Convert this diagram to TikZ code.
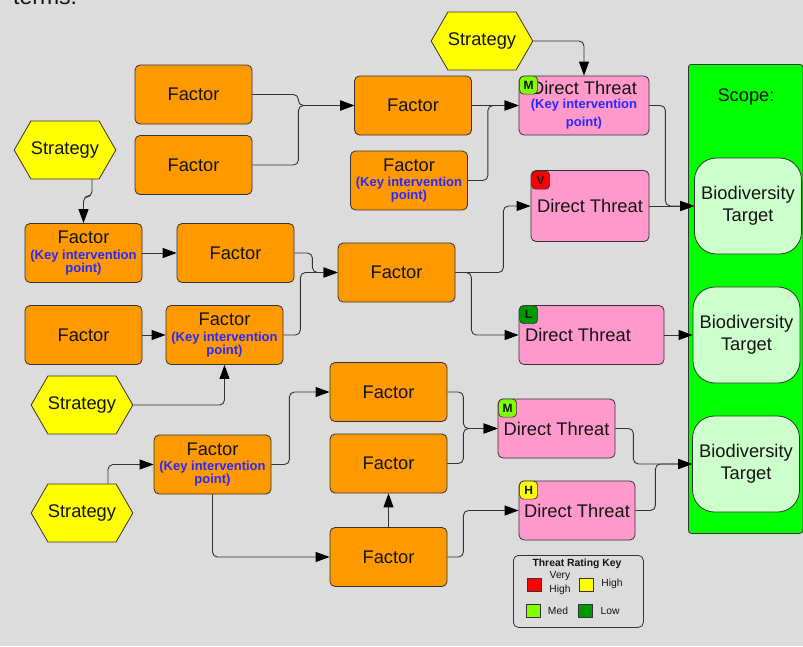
\documentclass[tikz,border=0pt]{standalone}
\usepackage{fontspec}
\setmainfont{Liberation Sans}
\usetikzlibrary{arrows.meta,shapes.symbols,calc}

\definecolor{bg}{RGB}{220,220,220}
\definecolor{factor}{RGB}{255,153,0}
\definecolor{threat}{RGB}{255,153,204}
\definecolor{strat}{RGB}{255,255,0}
\definecolor{scopegreen}{RGB}{0,255,0}
\definecolor{target}{RGB}{204,255,204}
\definecolor{kipblue}{RGB}{40,40,255}
\definecolor{edge}{RGB}{51,51,51}
\definecolor{ink}{RGB}{20,20,20}
\definecolor{rvhigh}{RGB}{255,0,0}
\definecolor{rhigh}{RGB}{255,255,0}
\definecolor{rmed}{RGB}{128,255,0}
\definecolor{rlow}{RGB}{0,153,0}

\newcommand\mainsize{\fontsize{18.3}{20}\selectfont}
\newcommand\kip[1]{{\bfseries\color{kipblue}#1}}

\tikzset{
  box/.style={draw=edge, line width=0.8pt, rounded corners=5pt, inner sep=0pt,
    align=center, font=\mainsize, text=ink},
  factorbox/.style={box, fill=factor, minimum width=117pt, minimum height=59pt},
  kipbox/.style={font=\fontsize{13}{12}\selectfont},
  threatbox/.style={box, fill=threat, minimum height=59pt},
  strategy/.style={draw=edge, line width=0.8pt, fill=strat, signal, signal to=east and west,
    signal pointer angle=120, minimum width=100pt, minimum height=58pt,
    inner sep=0pt, font=\mainsize, text=ink},
  targetbox/.style={box, fill=target, rounded corners=22pt, minimum width=107pt,
    minimum height=96pt, font=\fontsize{18.3}{22}\selectfont},
  badge/.style={draw=edge, line width=0.7pt, rounded corners=4pt, minimum width=18pt,
    minimum height=18pt, inner sep=0pt, font=\fontsize{12}{12}\selectfont\bfseries, text=ink},
  keysq/.style={draw=edge, line width=0.7pt, minimum width=14pt, minimum height=13pt, inner sep=0pt},
  keytxt/.style={font=\fontsize{10.3}{14}\selectfont, align=center, text=ink, inner sep=0pt},
  conn/.style={draw=edge, line width=0.9pt, rounded corners=5pt,
    -{Triangle[length=14pt,width=10pt,color=black]}},
}

\begin{document}
\begin{tikzpicture}[x=1pt, y=-1pt]
\useasboundingbox (0,0) rectangle (803,646);
\clip (0,0) rectangle (803,646);
\fill[bg] (0,0) rectangle (803,646);

% trailing words of the preceding paragraph
\node[anchor=base west, inner sep=0pt, font=\fontsize{23}{23}\selectfont, text=ink] (terms) at (13,4.5) {terms.};

% scope panel with the biodiversity targets
\node[draw=edge, line width=0.8pt, fill=scopegreen, rounded corners=3pt, anchor=north west,
  minimum width=114.5pt, minimum height=469pt, inner sep=0pt] (scope) at (688,64) {};
\node[font=\mainsize, text=ink] (scopelbl) at (746,97) {Scope:};
\node[targetbox] (BT1) at (748,206) {Biodiversity\\Target};
\node[targetbox] (BT2) at (746.5,335) {Biodiversity\\Target};
\node[targetbox] (BT3) at (746,464) {Biodiversity\\Target};

% strategies
\node[strategy] (ST) at (482,41) {Strategy};
\node[strategy] (SL) at (65,150) {Strategy};
\node[strategy] (SM) at (82,405) {Strategy};
\node[strategy] (SB) at (82,513) {Strategy};

% factors
\node[factorbox] (FA) at (193.5,94.5) {Factor};
\node[factorbox] (FB) at (193.5,165) {Factor};
\node[factorbox] (FC) at (413,105.5) {Factor};
\node[factorbox, kipbox] (FD) at (409,180.5) {{\mainsize Factor}\\[3.5pt]\kip{(Key intervention}\\\kip{point)}};
\node[factorbox, kipbox] (FE) at (83.5,253) {{\mainsize Factor}\\[3.5pt]\kip{(Key intervention}\\\kip{point)}};
\node[factorbox] (FF) at (235.5,253) {Factor};
\node[factorbox] (FG) at (396.5,272.5) {Factor};
\node[factorbox] (FH) at (83.5,335) {Factor};
\node[factorbox, kipbox] (FI) at (224.5,335) {{\mainsize Factor}\\[3.5pt]\kip{(Key intervention}\\\kip{point)}};
\node[factorbox] (FJ) at (388.5,392) {Factor};
\node[factorbox] (FK) at (388.5,463.5) {Factor};
\node[factorbox, kipbox] (FL) at (212.5,464.5) {{\mainsize Factor}\\[3.5pt]\kip{(Key intervention}\\\kip{point)}};
\node[factorbox] (FM) at (388.5,557) {Factor};

% direct threats
\node[threatbox, kipbox, minimum width=130pt] (DTM) at (584,105.5)
  {{\mainsize Direct Threat}\\[2pt]\kip{(Key intervention}\\[5pt]\kip{point)}};
\node[threatbox, minimum width=118pt, minimum height=71pt] (DTV) at (590,206) {Direct Threat};
\node[threatbox, minimum width=145pt] (DTL) at (591.5,335) {Direct Threat\hbox to 27pt{}};
\node[threatbox, minimum width=117pt] (DTN) at (556.5,428.5) {Direct Threat};
\node[threatbox, minimum width=116pt] (DTH) at (577,510.5) {Direct Threat};

% threat rating badges
\node[badge, fill=rmed]   (bDTM) at ($(DTM.north west)+(10,9.5)$) {M};
\node[badge, fill=rvhigh] (bDTV) at ($(DTV.north west)+(10,10)$) {V};
\node[badge, fill=rlow]   (bDTL) at ($(DTL.north west)+(10,9.5)$) {L};
\node[badge, fill=rmed]   (bDTN) at ($(DTN.north west)+(10,9.5)$) {M};
\node[badge, fill=rhigh]  (bDTH) at ($(DTH.north west)+(10,9.5)$) {H};

% connectors
\draw[conn] (FA.east) -- ++(46,0) |- (FC.west);
\draw[conn] (FB.east) -- ++(46,0) |- (FC.west);
\draw[conn] (FC.east) -- (DTM.west);
\draw[conn] (FD.east) -- ++(20,0) |- (DTM.west);
\draw[conn] (ST.east) -| (DTM.north);
\draw[conn] (DTM.east) -- ++(16,0) |- (BT1.west);
\draw[conn] (DTV.east) -- (BT1.west);
\draw[conn] (FG.east) -- ++(48,0) |- (DTV.west);
\draw[conn] (FG.east) -- ++(16,0) |- (DTL.west);
\draw[conn] (DTL.east) -- (BT2.west);
\draw[conn] ($(SL.south)+(27,0)$) -- ++(0,17) -| (FE.north);
\draw[conn] (FE.east) -- (FF.west);
\draw[conn] (FF.east) -- ++(18,0) |- (FG.west);
\draw[conn] (FI.east) -- ++(17,0) |- (FG.west);
\draw[conn] (FH.east) -- (FI.west);
\draw[conn] (SM.east) -| (FI.south);
\draw[conn] (FL.east) -- ++(18,0) |- (FJ.west);
\draw[conn] ($(SB.north)+(26,0)$) |- (FL.west);
\draw[conn] (FL.south) |- (FM.west);
\draw[conn] (FM.north) -- (FK.south);
\draw[conn] (FJ.east) -- ++(16,0) |- (DTN.west);
\draw[conn] (FK.east) -- ++(16,0) |- (DTN.west);
\draw[conn] (FM.east) -- ++(16,0) |- (DTH.west);
\draw[conn] (DTN.east) -- ++(18,0) |- (BT3.west);
\draw[conn] (DTH.east) -- ++(20,0) |- (BT3.west);

% threat rating key
\node[draw=edge, line width=0.8pt, fill=bg, rounded corners=5pt, anchor=north west,
  minimum width=130pt, minimum height=72pt, inner sep=0pt] (key) at (513,555) {};
\node[keytxt, font=\fontsize{10.4}{12}\selectfont\bfseries] (keytitle) at (577,564) {Threat Rating Key};
\node[keysq, fill=rvhigh] (kV) at (534,584.5) {};
\node[keytxt] (kVt) at (560,583) {Very\\High};
\node[keysq, fill=rhigh] (kH) at (586,584.5) {};
\node[keytxt] (kHt) at (612,584) {High};
\node[keysq, fill=rmed] (kM) at (533,611) {};
\node[keytxt] (kMt) at (558,611) {Med};
\node[keysq, fill=rlow] (kL) at (585.5,611) {};
\node[keytxt] (kLt) at (610,611) {Low};
\end{tikzpicture}
\end{document}
